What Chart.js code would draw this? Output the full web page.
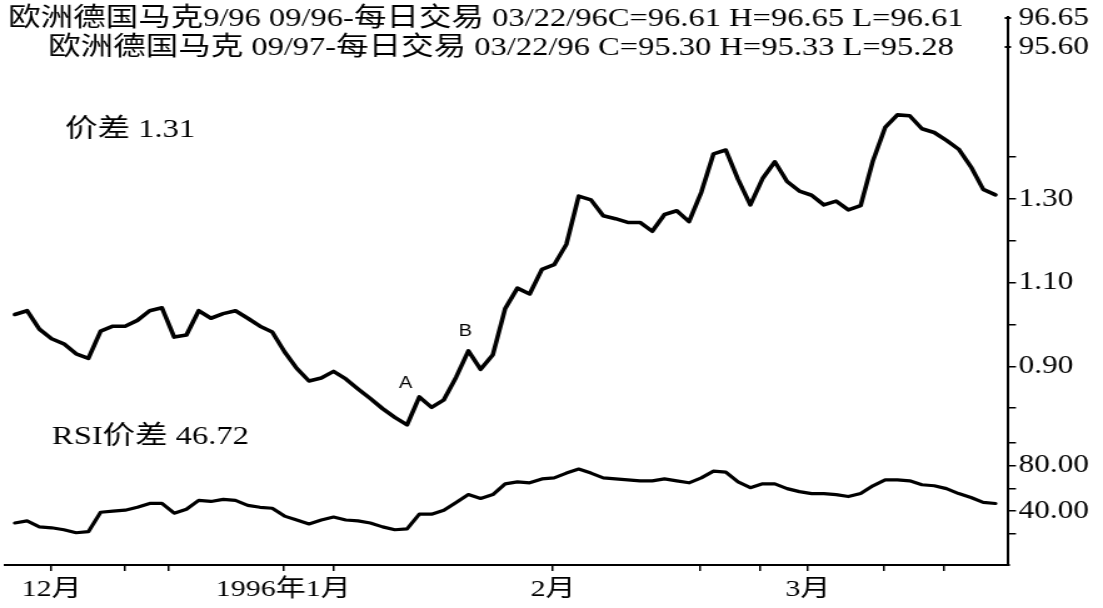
<!DOCTYPE html>
<html>
<head>
<meta charset="utf-8">
<script src="https://cdn.jsdelivr.net/npm/chart.js@4.4.1/dist/chart.umd.min.js"></script>
<style>
  html, body { margin: 0; padding: 0; background: #fff; }
</style>
</head>
<body>
<canvas id="c" width="882" height="608" style="display:block;width:1103px;height:608px"></canvas>
<script>
// ---- data (trading-day index 0..80, late Nov 1995 to 03/22/96) ----
const spreadValues = [
  1.024, 1.033, 0.989, 0.966, 0.954, 0.930, 0.919, 0.984, 0.996, 0.996,
  1.010, 1.033, 1.040, 0.970, 0.975, 1.033, 1.015, 1.026, 1.033, 1.015,
  0.996, 0.982, 0.935, 0.895, 0.865, 0.872, 0.888, 0.870, 0.846, 0.823,
  0.799, 0.778, 0.760, 0.827, 0.802, 0.820, 0.874, 0.937, 0.893, 0.928,
  1.038, 1.087, 1.073, 1.132, 1.143, 1.192, 1.307, 1.298, 1.260, 1.253,
  1.244, 1.244, 1.223, 1.263, 1.272, 1.246, 1.316, 1.408, 1.417, 1.347,
  1.286, 1.349, 1.389, 1.342, 1.319, 1.309, 1.286, 1.295, 1.274, 1.284,
  1.391, 1.471, 1.501, 1.499, 1.468, 1.459, 1.440, 1.419, 1.377, 1.323,
  1.310
];
const rsiValues = [
  29.7, 31.5, 26.3, 25.5, 23.8, 21.2, 22.1, 39.1, 40.0, 40.9,
  43.4, 46.8, 46.8, 38.3, 41.7, 49.4, 48.5, 50.3, 49.4, 45.1,
  43.4, 42.6, 35.7, 32.3, 28.9, 32.3, 34.9, 32.3, 31.5, 29.7,
  26.3, 23.8, 24.6, 37.4, 37.4, 40.9, 47.7, 54.5, 51.1, 54.5,
  63.9, 65.6, 64.8, 68.2, 69.1, 73.3, 76.8, 73.3, 69.1, 68.2,
  67.4, 66.5, 66.5, 68.2, 66.5, 64.8, 69.1, 75.0, 74.2, 65.6,
  60.5, 63.9, 63.9, 59.7, 57.1, 55.4, 55.4, 54.5, 52.8, 55.4,
  62.2, 67.4, 67.4, 66.5, 63.1, 62.2, 59.7, 55.4, 52.0, 47.7,
  46.72
];
// x-axis tick positions (trading-day index) and labels
const monthTickPos = [3, 21.9, 43.9, 64.7];
const monthTickLabels = ['12月', '1996年1月', '2月', '3月'];
const minorTickPos = [9, 12.5, 26, 55.9, 60.8, 70.9, 75.8];
// right axis ticks
const spreadTicks = [0.8, 0.9, 1.0, 1.1, 1.2, 1.3, 1.4];
const spreadTickLabels = [0.9, 1.1, 1.3];
const rsiTicks = [20, 40, 60, 80, 100];
const rsiTickLabels = [40, 80];
// texts
const titleLine1 = '欧洲德国马克9/96 09/96-每日交易 03/22/96C=96.61 H=96.65 L=96.61';
const titleLine2 = '欧洲德国马克 09/97-每日交易 03/22/96 C=95.30 H=95.33 L=95.28';
const contractHigh = ['96.65', '95.60'];
const spreadLabel = '价差 1.31';
const rsiLabel = 'RSI价差 46.72';
const markLabels = ['A', 'B'];
const markIndex = [33, 37];

const SERIF = '"Liberation Serif", "Noto Sans CJK SC", serif';

const textPlugin = {
  id: 'texts',
  afterDraw(chart) {
    const ctx = chart.ctx;
    const xs = chart.scales.x, ys = chart.scales.y;
    ctx.save();
    ctx.fillStyle = '#000';
    ctx.strokeStyle = '#000';
    ctx.textBaseline = 'middle';
    ctx.textAlign = 'left';
    ctx.font = '26px ' + SERIF;
    ctx.fillText(titleLine1, 6.4, 19);
    ctx.fillText(titleLine2, 38.4, 48);
    ctx.fillText(spreadLabel, 52, 130);
    ctx.fillText(rsiLabel, 41.6, 437);
    ctx.font = '25px ' + SERIF;
    const ax = chart.chartArea.right;
    [18, 47].forEach((yy, i) => {
      ctx.fillText(contractHigh[i], ax + 8, yy);
      ctx.lineWidth = 2;
      ctx.beginPath();
      ctx.moveTo(ax - 3, yy);
      ctx.lineTo(ax + 2, yy);
      ctx.stroke();
    });
    ctx.font = '16px "Liberation Sans", Arial, sans-serif';
    ctx.textAlign = 'center';
    const offs = [[-11, -13], [-2.4, -19]];
    markIndex.forEach((idx, i) => {
      const px = xs.getPixelForValue(idx) + offs[i][0];
      const py = ys.getPixelForValue(spreadValues[idx]) + offs[i][1];
      ctx.fillText(markLabels[i], px, py);
    });
    ctx.restore();
  }
};

const isIn = (arr, v) => arr.some(a => Math.abs(a - v) < 1e-6);

new Chart(document.getElementById('c'), {
  type: 'line',
  data: {
    datasets: [
      {
        data: spreadValues.map((v, i) => ({ x: i, y: v })),
        yAxisID: 'y',
        borderColor: '#000',
        borderWidth: 3.6,
        pointRadius: 0,
        tension: 0,
        borderJoinStyle: 'round',
        borderCapStyle: 'round'
      },
      {
        data: rsiValues.map((v, i) => ({ x: i, y: v })),
        yAxisID: 'rsi',
        borderColor: '#000',
        borderWidth: 3.2,
        pointRadius: 0,
        tension: 0,
        borderJoinStyle: 'round',
        borderCapStyle: 'round'
      }
    ]
  },
  options: {
    responsive: false,
    animation: false,
    layout: { padding: { left: 4, top: 5, right: 0, bottom: 0 } },
    plugins: { legend: { display: false }, tooltip: { enabled: false }, title: { display: false } },
    scales: {
      x: {
        type: 'linear',
        position: 'bottom',
        min: -0.8,
        max: 81.06,
        afterBuildTicks: s => {
          s.ticks = monthTickPos.concat(minorTickPos).sort((a, b) => a - b).map(v => ({ value: v }));
        },
        afterFit: s => { s.height = 43; },
        ticks: {
          autoSkip: false,
          maxRotation: 0,
          padding: 4,
          color: '#000',
          font: { family: SERIF, size: 24 },
          callback: v => {
            const k = monthTickPos.findIndex(p => Math.abs(p - v) < 1e-6);
            return k >= 0 ? monthTickLabels[k] : '';
          }
        },
        grid: { drawOnChartArea: false, drawTicks: true, tickLength: 6, color: '#000', lineWidth: 1.5 },
        border: { color: '#000', width: 2 }
      },
      y: {
        type: 'linear',
        position: 'right',
        stack: 'r',
        stackWeight: 425,
        min: 0.741,
        max: 1.735,
        afterBuildTicks: s => { s.ticks = spreadTicks.map(v => ({ value: v })); },
        afterFit: s => { s.width = 75.6; },
        ticks: {
          autoSkip: false,
          padding: 2,
          color: '#000',
          font: { family: SERIF, size: 25 },
          callback: v => isIn(spreadTickLabels, v) ? v.toFixed(2) : ''
        },
        grid: { drawOnChartArea: false, drawTicks: true, tickLength: 6, color: '#000', lineWidth: 1.5 },
        border: { color: '#000', width: 2 }
      },
      rsi: {
        type: 'linear',
        position: 'right',
        stack: 'r',
        stackWeight: 135,
        min: -7,
        max: 108.4,
        afterBuildTicks: s => { s.ticks = rsiTicks.map(v => ({ value: v })); },
        afterFit: s => { s.width = 75.6; },
        ticks: {
          autoSkip: false,
          padding: 2,
          color: '#000',
          font: { family: SERIF, size: 25 },
          callback: v => isIn(rsiTickLabels, v) ? v.toFixed(2) : ''
        },
        grid: { drawOnChartArea: false, drawTicks: true, tickLength: 6, color: '#000', lineWidth: 1.5 },
        border: { color: '#000', width: 2 }
      }
    }
  },
  plugins: [textPlugin]
});
</script>
</body>
</html>
